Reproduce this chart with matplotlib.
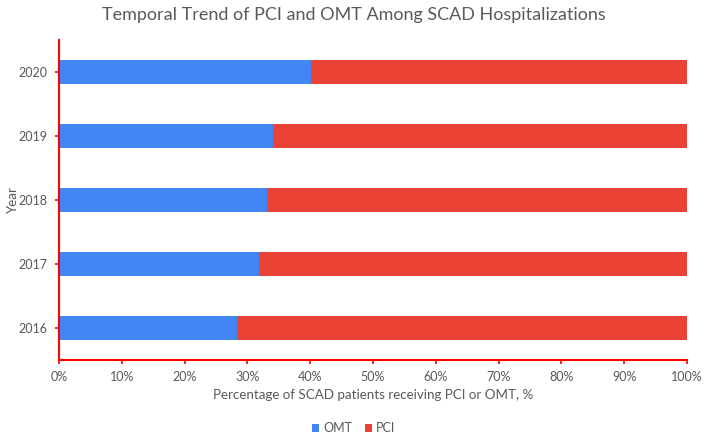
import matplotlib
matplotlib.use("Agg")
import matplotlib.pyplot as plt
import numpy as np
from matplotlib.ticker import PercentFormatter

years = ["2016", "2017", "2018", "2019", "2020"]
omt = [28.3, 31.9, 33.2, 34.0, 40.1]
pci = [100 - v for v in omt]

plt.rcParams['font.family'] = ['Lato', 'DejaVu Sans']
txt = '#595959'

fig = plt.figure(figsize=(7.07, 4.4), dpi=100)
ax = fig.add_axes([59/707, 1-360/440, (687-59)/707, 320/440])

y = np.arange(len(years))
ax.barh(y, omt, height=0.39, color='#4285F4', label='OMT')
ax.barh(y, pci, left=omt, height=0.39, color='#EA4335', label='PCI')

ax.set_xlim(0, 100)
ax.set_ylim(-0.5, 4.5)
ax.set_yticks(y)
ax.set_yticklabels(years)
ax.set_xticks(np.arange(0, 101, 10))
ax.xaxis.set_major_formatter(PercentFormatter(decimals=0))

for s in ['top', 'right']:
    ax.spines[s].set_visible(False)
for s in ['left', 'bottom']:
    ax.spines[s].set_color('red')
    ax.spines[s].set_linewidth(1.5)
ax.tick_params(axis='both', colors='red', labelcolor=txt, labelsize=9, length=3, width=1.2)
ax.tick_params(axis='y', pad=5)
ax.tick_params(axis='x', pad=5)

ax.set_xlabel('Percentage of SCAD patients receiving PCI or OMT, %', color=txt, fontsize=9.6, labelpad=4)
ax.set_ylabel('Year', color=txt, fontsize=9.6)
ax.yaxis.set_label_coords(-0.064, 0.5)
fig.suptitle('Temporal Trend of PCI and OMT Among SCAD Hospitalizations', color=txt, fontsize=13, y=0.985)

fig.legend(loc='center', bbox_to_anchor=(0.5, 1-428/440), ncol=2, frameon=False,
           fontsize=9, handlelength=0.6, handleheight=0.6, handletextpad=0.3, columnspacing=1.0,
           labelcolor=txt)

fig.savefig('out.png', dpi=100)
